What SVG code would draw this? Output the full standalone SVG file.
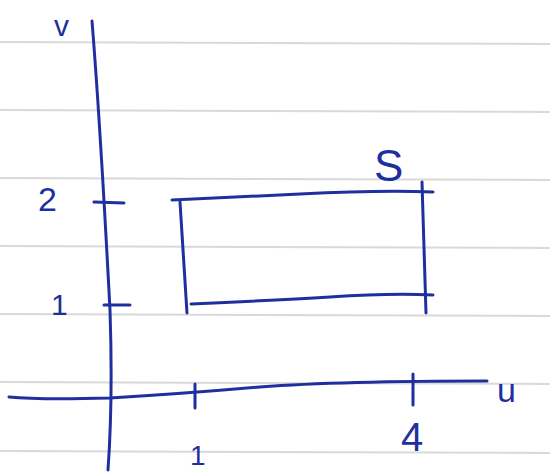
<svg xmlns="http://www.w3.org/2000/svg" width="550" height="475" viewBox="0 0 550 475">
<style>
.paper{stroke:#d9d9d9;stroke-width:2;fill:none}
.ink{stroke:#1f2f9e;stroke-width:3;fill:none;stroke-linecap:round;stroke-linejoin:round}
.lbl{fill:#1f2f9e;font-family:"Liberation Sans","DejaVu Sans",sans-serif}
</style>
<rect width="550" height="475" fill="#ffffff"/>
<g id="paper">
<path class="paper" d="M0 42 L550 44"/>
<path class="paper" d="M0 110 L550 112"/>
<path class="paper" d="M0 178 L550 180"/>
<path class="paper" d="M0 246 L550 248"/>
<path class="paper" d="M0 314 L550 316"/>
<path class="paper" d="M0 382 L550 384"/>
<path class="paper" d="M0 451 L550 453"/>
</g>
<g id="connectors">
<path id="v-axis" class="ink" d="M92 21 Q100 120 110 310 Q113 400 108 470"/>
<path id="u-axis" class="ink" d="M9 397 Q40 400 110 398 Q180 394 260 387 Q340 381 487 381"/>
<path class="ink" d="M195 384 L195 408"/>
<path class="ink" d="M413 374 L413 405"/>
<path class="ink" d="M94 202 L124 203"/>
<path class="ink" d="M104 305 L130 305"/>
</g>
<g id="S">
<path class="ink" d="M172 200 Q260 196 300 194 Q380 190 433 192"/>
<path class="ink" d="M180 202 L187 313"/>
<path class="ink" d="M422 182 L426 313"/>
<path class="ink" d="M191 304 Q280 300 330 297 Q390 293 433 295"/>
<text class="lbl" x="374" y="181" font-size="44">S</text>
</g>
<g id="labels">
<text class="lbl" x="54" y="36" font-size="30">v</text>
<text class="lbl" x="38" y="211" font-size="34">2</text>
<text class="lbl" x="51" y="315" font-size="30">1</text>
<text class="lbl" x="190" y="465" font-size="28">1</text>
<text class="lbl" x="401" y="451" font-size="40">4</text>
<text class="lbl" x="497" y="402" font-size="34">u</text>
</g>
</svg>
